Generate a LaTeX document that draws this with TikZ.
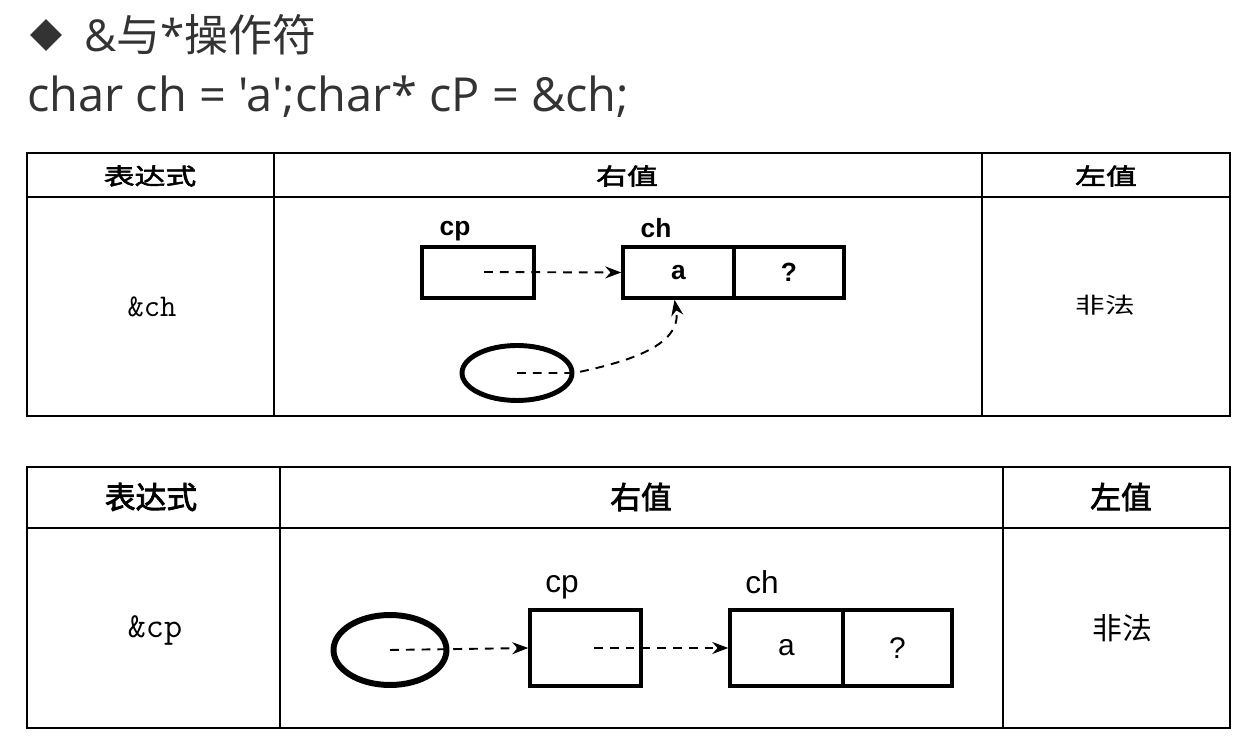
\documentclass[tikz,border=0pt]{standalone}
\usepackage{fontspec}
\setmainfont{Liberation Sans}
\newfontfamily\opensans{Open Sans}
\newfontfamily\cjk{Noto Sans CJK SC}[AutoFakeBold=2.5]
\newfontfamily\cjkwide{Noto Sans CJK SC}[FakeStretch=1.35, AutoFakeBold=2.5]
\usetikzlibrary{positioning, arrows.meta, shapes.geometric}
\definecolor{inkgray}{HTML}{333333}

\begin{document}
\begin{tikzpicture}[
    x=0.02cm, y=-0.02cm,
    grid/.style={draw, line width=1.1pt},
    memo/.style={rectangle, draw, line width=2pt, inner sep=0pt, font=\bfseries},
    hole/.style={ellipse, draw, inner sep=0pt},
    tag/.style={inner sep=0pt, font=\bfseries},
    head/.style={inner sep=0pt, font=\cjk\bfseries},
    ptr/.style={-{Stealth[length=3.2mm, width=2.4mm]}, line width=1.1pt, dash pattern=on 5pt off 4pt},
]
\useasboundingbox (0,0) rectangle (1255,742);

% Title lines
\node[diamond, fill=inkgray, minimum width=0.64cm, minimum height=0.64cm, inner sep=0pt] (bullet) at (46,35) {};
\node[anchor=west, inner sep=0pt, text=inkgray, font=\fontsize{25}{30}\opensans] (title) at (84,35) {\&{\cjk 与}*{\cjk 操作符}};
\node[anchor=west, inner sep=0pt, text=inkgray, font=\fontsize{26.7}{32}\opensans] (code) at (27,97) {char ch = 'a';char* cP = \&ch;};

% First table: &ch
\draw[grid] (27,153) rectangle (1230,416);
\draw[grid] (27,197) -- (1230,197);
\draw[grid] (274,153) -- (274,416);
\draw[grid] (982,153) -- (982,416);
\node[head, font=\fontsize{13}{15}\cjkwide\bfseries] (h1e) at (150,176) {表达式};
\node[head, font=\fontsize{13}{15}\cjkwide\bfseries] (h1r) at (627,176) {右值};
\node[head, font=\fontsize{13}{15}\cjkwide\bfseries] (h1l) at (1106,176) {左值};
\node[inner sep=0pt, font=\fontsize{18}{20}\ttfamily] (e1) at (152,307) {\&ch};
\node[inner sep=0pt, font=\fontsize{12.5}{15}\cjkwide] (l1) at (1105,305) {非法};

\node[memo, minimum width=2.24cm, minimum height=1.02cm] (cp1) at (478,272.5) {};
\node[memo, minimum width=2.22cm, minimum height=1.02cm, font=\fontsize{15}{18}\bfseries] (ch1a) at (678.5,272.5) {a};
\node[memo, minimum width=2.2cm, minimum height=1.02cm, font=\fontsize{15}{18}\bfseries] (ch1q) at (789,272.5) {?};
\node[tag, font=\fontsize{15}{18}\bfseries] (cp1l) at (455,231) {cp};
\node[tag, font=\fontsize{15}{18}\bfseries] (ch1l) at (656,228) {ch};
\node[hole, line width=2.8pt, minimum width=2.2cm, minimum height=1.1cm] (hole1) at (517,373) {};

\coordinate (p1) at (484,272);
\draw[ptr] (p1) -- (ch1a.west);
\draw[ptr] (hole1.center) -- (hole1.east) to[out=12, in=-80] ([xshift=-0.08cm]ch1a.south);

% Second table: &cp
\draw[grid] (27,467) rectangle (1230,728);
\draw[grid] (27,528) -- (1230,528);
\draw[grid] (280,467) -- (280,728);
\draw[grid] (1003,467) -- (1003,728);
\node[head, font=\fontsize{17.5}{20}\cjk\bfseries] (h2e) at (151,497) {表达式};
\node[head, font=\fontsize{17.5}{20}\cjk\bfseries] (h2r) at (641,497) {右值};
\node[head, font=\fontsize{17.5}{20}\cjk\bfseries] (h2l) at (1121,497) {左值};
\node[inner sep=0pt, font=\fontsize{20}{22}\ttfamily] (e2) at (155,630) {\&cp};
\node[inner sep=0pt, font=\fontsize{17}{20}\cjk] (l2) at (1122,628) {非法};

\node[hole, line width=3.4pt, minimum width=2.26cm, minimum height=1.4cm] (hole2) at (390,650) {};
\node[memo, minimum width=2.22cm, minimum height=1.52cm] (cp2) at (585.5,648) {};
\node[memo, minimum width=2.26cm, minimum height=1.52cm, font=\fontsize{17}{20}\selectfont] (ch2a) at (786.5,648) {a};
\node[memo, minimum width=2.18cm, minimum height=1.52cm, font=\fontsize{17}{20}\selectfont] (ch2q) at (897.5,648) {?};
\node[tag, font=\fontsize{18}{21}\selectfont] (cp2l) at (562,587) {cp};
\node[tag, font=\fontsize{18}{21}\selectfont] (ch2l) at (762,582) {ch};

\coordinate (p2) at (594,648);
\draw[ptr] (hole2.center) -- (cp2.west);
\draw[ptr] (p2) -- (ch2a.west);

\end{tikzpicture}
\end{document}
